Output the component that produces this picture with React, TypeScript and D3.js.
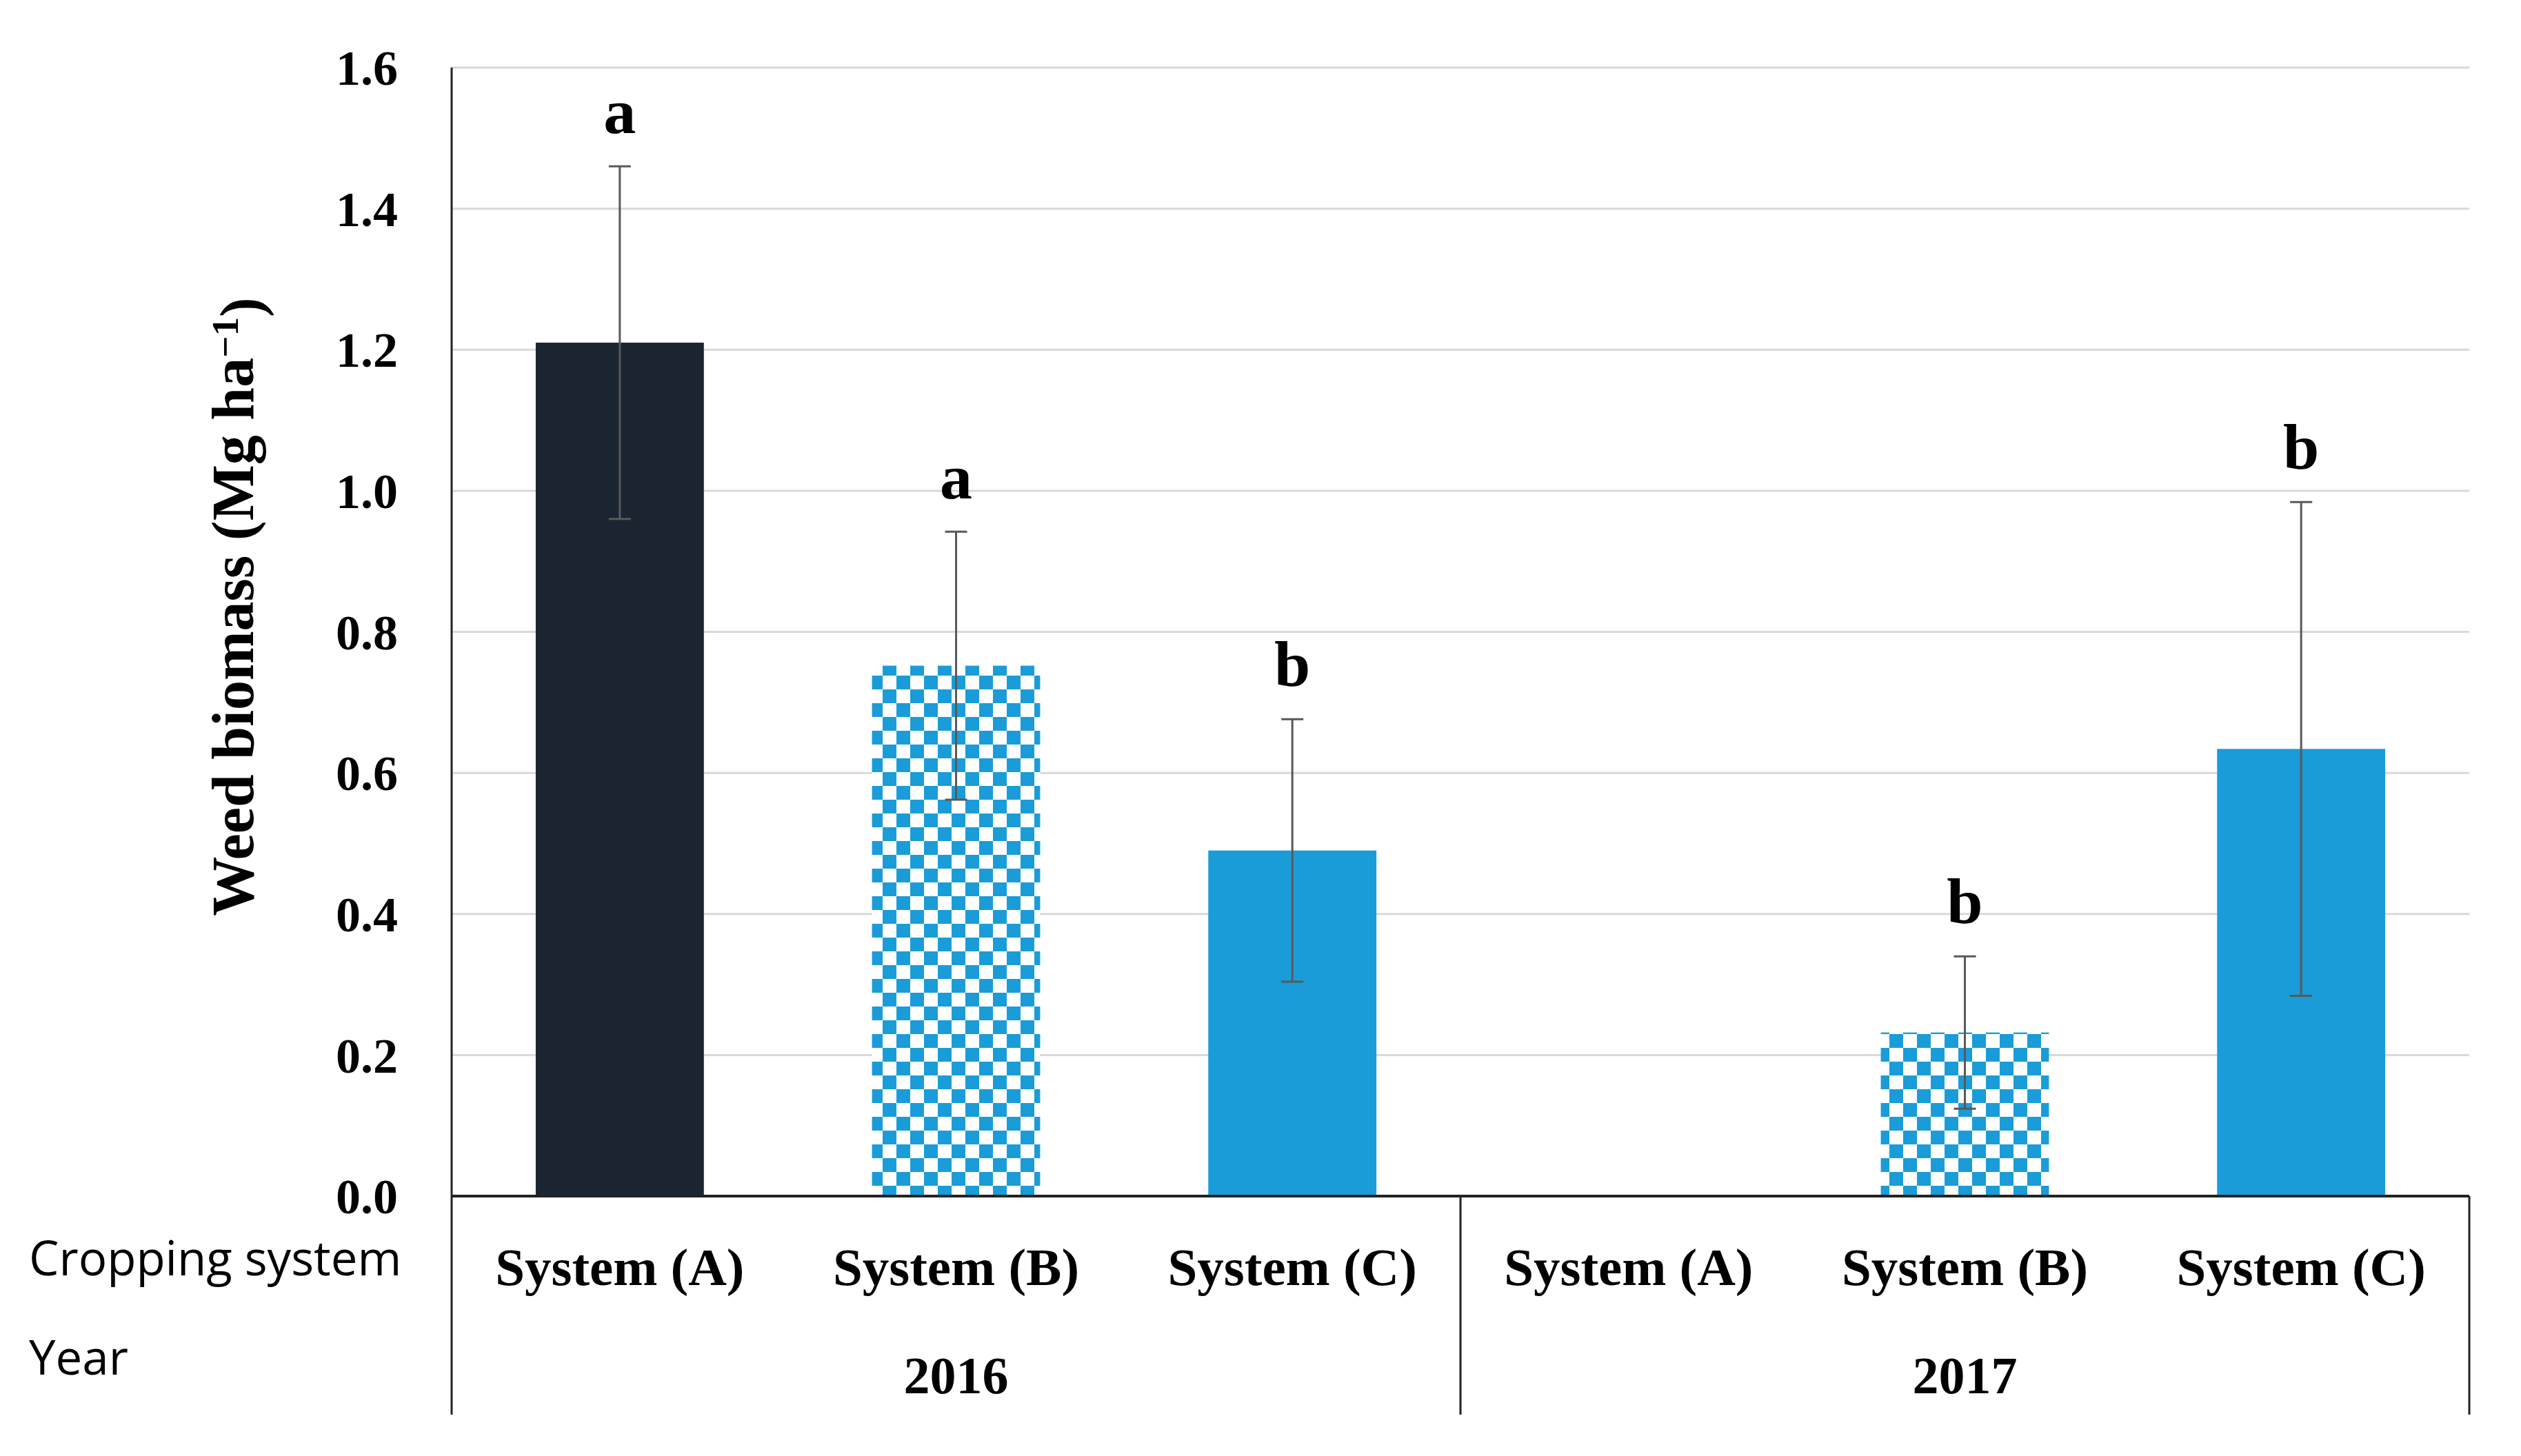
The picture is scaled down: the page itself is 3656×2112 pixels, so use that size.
import * as d3 from 'd3'

// values
const years = ['2016', '2017']
const systems = ['System (A)', 'System (B)', 'System (C)']
const biomass = [1.21, 0.752, 0.49, 0, 0.232, 0.634]
const stdErr = [0.25, 0.19, 0.186, 0, 0.108, 0.35]
const letters = ['a', 'a', 'b', '', 'b', 'b']
const yTicks = [0, 0.2, 0.4, 0.6, 0.8, 1.0, 1.2, 1.4, 1.6]

const W = 3656
const H = 2112
const left = 655
const right = 3581
const top = 98
const base = 1735
const bottom = 2052

const serif = '"Liberation Serif", "Times New Roman", serif'
const sans = '"Open Sans", "Noto Sans", sans-serif'
const navy = '#1b2532'
const blue = '#1a9cd8'

export default function App() {
  const cats = years.flatMap(y => systems.map(s => `${y}|${s}`))
  const x = d3.scaleBand<string>().domain(cats).range([left, right]).padding(0)
  const y = d3.scaleLinear().domain([0, 1.6]).range([base, top])
  const bw = x.bandwidth() * 0.5
  const groupW = x.bandwidth() * systems.length

  const fillFor = (i: number) => {
    const s = i % 3
    if (s === 0) return navy
    if (s === 1) return 'url(#checker)'
    return blue
  }

  return (
    <svg width={W} height={H} style={{ position: 'absolute', left: 0, top: 0, background: '#fff' }}>
      <defs>
        <pattern id="checker" width={40} height={40} patternUnits="userSpaceOnUse">
          <rect width={40} height={40} fill="#fff" />
          <rect x={0} y={0} width={20} height={20} fill={blue} />
          <rect x={20} y={20} width={20} height={20} fill={blue} />
        </pattern>
      </defs>

      {/* gridlines */}
      {yTicks.filter(t => t > 0).map(t => (
        <line key={t} x1={left} x2={right} y1={y(t)} y2={y(t)} stroke="#d9d9d9" strokeWidth={3} />
      ))}

      {/* y tick labels */}
      {yTicks.map(t => (
        <text key={t} x={577} y={y(t)} dy="0.35em" textAnchor="end" fontFamily={serif}
          fontWeight="bold" fontSize={72} fill="#000">{t.toFixed(1)}</text>
      ))}

      {/* bars */}
      {cats.map((c, i) => biomass[i] > 0 && (
        <rect key={c} x={x(c)! + (x.bandwidth() - bw) / 2} y={y(biomass[i])}
          width={bw} height={base - y(biomass[i])} fill={fillFor(i)} />
      ))}

      {/* error bars */}
      {cats.map((c, i) => {
        if (stdErr[i] <= 0) return null
        const cx = x(c)! + x.bandwidth() / 2
        const y1 = y(biomass[i] + stdErr[i])
        const y0 = y(biomass[i] - stdErr[i])
        return (
          <g key={c} stroke="#595959" strokeWidth={3}>
            <line x1={cx} x2={cx} y1={y1} y2={y0} />
            <line x1={cx - 16} x2={cx + 16} y1={y1} y2={y1} />
            <line x1={cx - 16} x2={cx + 16} y1={y0} y2={y0} />
          </g>
        )
      })}

      {/* significance letters */}
      {cats.map((c, i) => letters[i] && (
        <text key={c} x={x(c)! + x.bandwidth() / 2} y={y(biomass[i] + stdErr[i]) - 48}
          textAnchor="middle" fontFamily={serif} fontWeight="bold" fontSize={94}>{letters[i]}</text>
      ))}

      {/* axes and separators */}
      <line x1={left} x2={right} y1={base} y2={base} stroke="#222" strokeWidth={4} />
      <line x1={left} x2={left} y1={top} y2={bottom} stroke="#222" strokeWidth={3} />
      {years.map((yr, j) => (
        <line key={yr} x1={left + groupW * (j + 1)} x2={left + groupW * (j + 1)} y1={base} y2={bottom}
          stroke="#222" strokeWidth={3} />
      ))}

      {/* category labels */}
      {cats.map(c => (
        <text key={c} x={x(c)! + x.bandwidth() / 2} y={1864} textAnchor="middle"
          fontFamily={serif} fontWeight="bold" fontSize={77}>{c.split('|')[1]}</text>
      ))}
      {years.map((yr, j) => (
        <text key={yr} x={left + groupW * (j + 0.5)} y={2021} textAnchor="middle"
          fontFamily={serif} fontWeight="bold" fontSize={76}>{yr}</text>
      ))}

      <text x={42} y={1850} fontFamily={sans} fontSize={69}>Cropping system</text>
      <text x={42} y={1994} fontFamily={sans} fontSize={69}>Year</text>

      {/* y axis title */}
      <text transform={`translate(367, 880) rotate(-90)`} textAnchor="middle"
        fontFamily={serif} fontWeight="bold" fontSize={86}>
        Weed biomass (Mg ha<tspan dy="-0.4em" fontSize={55}>−1</tspan><tspan dy="0.4em">)</tspan>
      </text>
    </svg>
  )
}
